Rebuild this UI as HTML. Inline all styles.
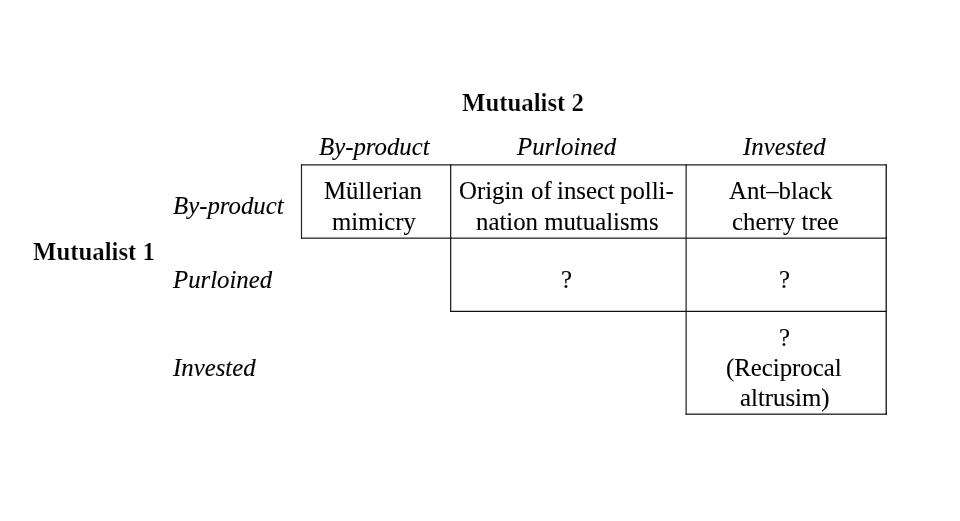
<!DOCTYPE html>
<html><head><meta charset="utf-8"><title>Mutualism table</title><style>
html,body{margin:0;padding:0;background:#fff;width:960px;height:521px;overflow:hidden}
.t{position:absolute;will-change:transform;white-space:nowrap;font-family:"Liberation Serif",serif;font-size:24.8px;line-height:30px;color:#000;-webkit-text-stroke:0.12px #000}
.b{font-weight:bold;-webkit-text-stroke:0.22px #fff} .i{font-style:italic}
svg{position:absolute;left:0;top:0}
</style></head>
<body>
<svg width="960" height="521" viewBox="0 0 960 521"><rect x="300.900" y="164.4" width="1.2" height="74.19999999999999" fill="#222"/><rect x="450.000" y="164.4" width="1.3" height="147.49999999999997" fill="#222"/><rect x="685.575" y="164.4" width="1.05" height="250.29999999999998" fill="#000"/><rect x="885.600" y="164.4" width="1.2" height="250.29999999999998" fill="#000"/><rect x="301" y="164.350" width="585.8" height="1.1" fill="#000"/><rect x="301" y="237.600" width="585.8" height="1.1" fill="#000"/><rect x="450" y="310.750" width="436.79999999999995" height="1.25" fill="#111"/><rect x="685.6" y="413.575" width="201.19999999999993" height="1.15" fill="#000"/></svg>
<div class="t b" style="left:462.30px;top:88px">Mutualist 2</div>
<div class="t b" style="left:32.55px;top:237px">Mutualist 1</div>
<div class="t i" style="left:173.05px;top:191px">By-product</div>
<div class="t i" style="left:173.05px;top:265px">Purloined</div>
<div class="t i" style="left:172.85px;top:353px">Invested</div>
<div class="t i" style="left:318.80px;top:132px">By-product</div>
<div class="t i" style="left:517.00px;top:132px">Purloined</div>
<div class="t i" style="left:742.65px;top:132px">Invested</div>
<div class="t" style="left:324.15px;top:176px">Müllerian</div>
<div class="t" style="left:332.15px;top:207px">mimicry</div>
<div class="t" style="left:459.35px;top:176px">Origin</div>
<div class="t" style="left:531.1px;top:176px">of</div>
<div class="t" style="left:557.4px;top:176px">insect</div>
<div class="t" style="left:619.9px;top:176px">polli-</div>
<div class="t" style="left:475.80px;top:207px">nation mutualisms</div>
<div class="t" style="left:728.65px;top:176px">Ant–black</div>
<div class="t" style="left:731.50px;top:207px">cherry tree</div>
<div class="t" style="left:561.20px;top:265px">?</div>
<div class="t" style="left:778.70px;top:265px">?</div>
<div class="t" style="left:778.60px;top:323px">?</div>
<div class="t" style="left:726.15px;top:353px">(Reciprocal</div>
<div class="t" style="left:740.10px;top:383px">altrusim)</div>
</body></html>
